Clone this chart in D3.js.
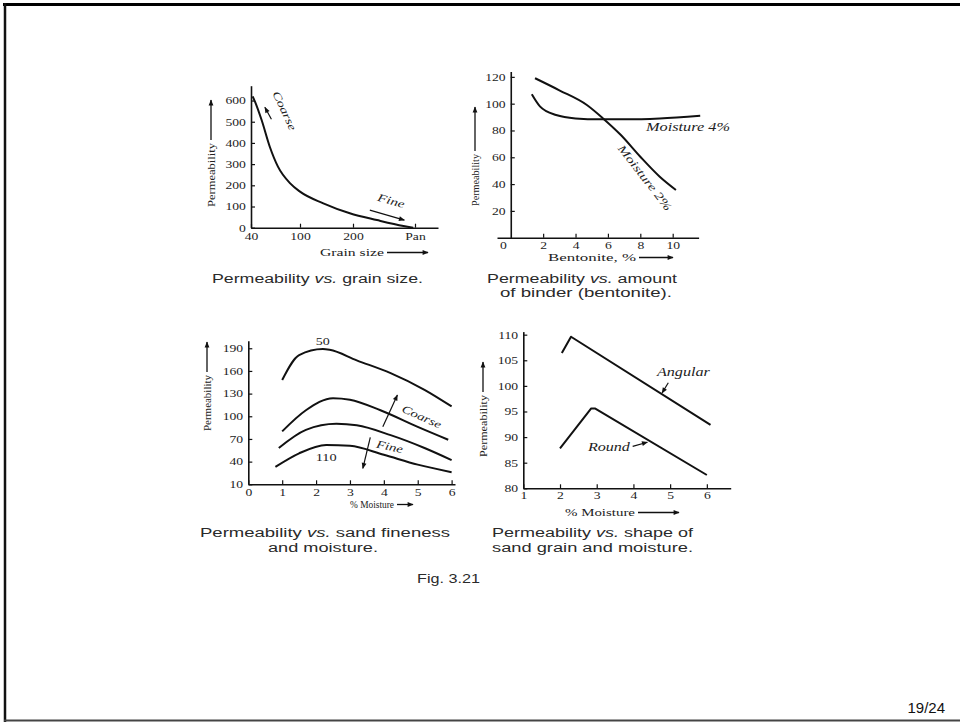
<!DOCTYPE html>
<html>
<head>
<meta charset="utf-8">
<script src="https://cdn.jsdelivr.net/npm/d3@7"></script>
<style>
  html, body { margin: 0; padding: 0; background: #fff; }
  svg { display: block; }
  .tick text { font-family: "Liberation Serif", "DejaVu Serif", serif; font-size: 10.5px; fill: #222; }
  .ser { font-family: "Liberation Serif", "DejaVu Serif", serif; fill: #222; }
  .cap { font-family: "Liberation Sans", Arial, sans-serif; font-size: 12px; fill: #2a2a2a; }
</style>
</head>
<body>
<script>
// ---------- DATA ----------
// Panel 1: permeability vs grain size
const grainTicks = [40, 100, 200, 270];
const grainTickLabels = ["40", "100", "200", "Pan"];
const grainSize = [42, 45, 53, 63, 73, 88, 100, 144, 194, 227, 257, 268];
const grainPerm = [620, 594, 508, 382, 288, 209, 170, 115, 68, 36, 8, 0];
const grainYTicks = [0, 100, 200, 300, 400, 500, 600];

// Panel 2: permeability vs bentonite
const bentTicks = [0, 2, 4, 6, 8, 10];
const bentYTicks = [20, 40, 60, 80, 100, 120];
const bent4X = [1.3, 1.8, 2.8, 4.0, 5.5, 7.2, 9.2, 11.7];
const bent4Y = [107, 98, 91.5, 89, 88.3, 88.3, 89, 91];
const bent2X = [1.5, 3.0, 4.7, 5.7, 6.8, 8.0, 9.2, 10.2];
const bent2Y = [119, 110, 99, 89, 76.6, 60.4, 45.5, 35.6];

// Panel 3: permeability vs sand fineness and moisture
const moistTicks3 = [0, 1, 2, 3, 4, 5, 6];
const permTicks3 = [10, 40, 70, 100, 130, 160, 190];
const fin50X = [1.0, 1.5, 2.2, 2.4, 3.2, 4.2, 5.2, 6.0];
const fin50Y = [148, 181, 189, 188, 174, 157, 135, 113];
const finBX = [1.0, 1.7, 2.5, 3.0, 3.9, 5.0, 5.9];
const finBY = [80, 108, 124, 122, 108, 86, 69];
const finCX = [0.9, 1.7, 2.6, 3.2, 4.2, 5.2, 6.0];
const finCY = [58, 82, 90, 88, 75, 58, 42];
const fin110X = [0.8, 1.5, 2.3, 3.0, 4.0, 5.0, 6.0];
const fin110Y = [33, 51, 62, 61, 49, 36, 26];

// Panel 4: permeability vs grain shape and moisture
const moistTicks4 = [1, 2, 3, 4, 5, 6];
const permTicks4 = [80, 85, 90, 95, 100, 105, 110];
const angX = [2.05, 2.3, 6.1];
const angY = [106.4, 109.6, 92.4];
const roundX = [2.0, 2.85, 2.95, 6.0];
const roundY = [87.8, 95.6, 95.6, 82.6];

// ---------- DRAW ----------
const svg = d3.select("body").append("svg").attr("width", 960).attr("height", 722);

// slide frame
svg.append("line").attr("x1", 3).attr("x2", 960).attr("y1", 4.5).attr("y2", 4.5).attr("stroke", "#000").attr("stroke-width", 3);
svg.append("line").attr("x1", 5).attr("x2", 5).attr("y1", 3).attr("y2", 722).attr("stroke", "#111").attr("stroke-width", 2.5);
svg.append("line").attr("x1", 4).attr("x2", 960).attr("y1", 720.5).attr("y2", 720.5).attr("stroke", "#444").attr("stroke-width", 2);

const defs = svg.append("defs");
defs.append("marker").attr("id", "ah").attr("viewBox", "0 0 10 10").attr("refX", 9).attr("refY", 5)
  .attr("markerWidth", 8).attr("markerHeight", 6).attr("markerUnits", "userSpaceOnUse").attr("orient", "auto")
  .append("path").attr("d", "M0,1 L10,5 L0,9 Z").attr("fill", "#111");

function zip(xs, ys) { return xs.map((x, i) => [x, ys[i]]); }

function drawAxes(g, x, y, xt, xl, yt, pad) {
  const ax = d3.axisBottom(x).tickValues(xt).tickSizeInner(-4).tickSizeOuter(0).tickPadding(pad.x)
    .tickFormat(xl ? ((d, i) => xl[i]) : d3.format("d"));
  const ay = d3.axisLeft(y).tickValues(yt).tickSizeInner(-4).tickSizeOuter(0).tickPadding(pad.y)
    .tickFormat(d3.format("d"));
  const gx = g.append("g").attr("transform", `translate(0,${y.range()[0]})`).call(ax);
  const gy = g.append("g").attr("transform", `translate(${x(x.domain()[0] < 0 ? 0 : x.domain()[0])},0)`).call(ay);
  [gx, gy].forEach(a => {
    a.select(".domain").attr("stroke", "#111").attr("stroke-width", 1.6);
    a.selectAll(".tick line").attr("stroke", "#111").attr("stroke-width", 1.2);
    a.selectAll(".tick text").attr("transform", "scale(1.3,1)");
  });
  return { gx, gy };
}

function line(g, x, y, pts, curve) {
  g.append("path").datum(pts).attr("fill", "none").attr("stroke", "#111").attr("stroke-width", 2)
    .attr("stroke-linejoin", "round")
    .attr("d", d3.line().x(d => x(d[0])).y(d => y(d[1])).curve(curve));
}

function arrow(g, x1, y1, x2, y2, w) {
  g.append("line").attr("x1", x1).attr("y1", y1).attr("x2", x2).attr("y2", y2)
    .attr("stroke", "#111").attr("stroke-width", w || 1.3).attr("marker-end", "url(#ah)");
}

function yLabel(g, cx, yBottom, len, arrowLen) {
  g.append("text").attr("class", "ser").attr("font-size", 11)
    .attr("textLength", len).attr("lengthAdjust", "spacingAndGlyphs")
    .attr("transform", `translate(${cx + 3.8},${yBottom}) rotate(-90)`).text("Permeability");
  arrow(g, cx, yBottom - len - 3, cx, yBottom - len - 3 - arrowLen);
}

function xLabel(g, txt, x0, yBase, len, arrowEnd) {
  g.append("text").attr("class", "ser").attr("font-size", 10.5).attr("x", x0).attr("y", yBase)
    .attr("textLength", len).attr("lengthAdjust", "spacingAndGlyphs").text(txt);
  arrow(g, x0 + len + 3, yBase - 3.5, arrowEnd, yBase - 3.5);
}

function ann(g, txt, px, py, rot, size, len, anchor) {
  return g.append("text").attr("class", "ser").attr("font-size", size).attr("font-style", "italic")
    .attr("text-anchor", anchor || "middle")
    .attr("textLength", len).attr("lengthAdjust", "spacingAndGlyphs")
    .attr("transform", `translate(${px},${py}) rotate(${rot})`).text(txt);
}

// ----- Panel 1 -----
{
  const g = svg.append("g");
  const x = d3.scaleLinear().domain([40, 100, 200, 270, 310]).range([251, 300, 353, 415, 438]);
  const y = d3.scaleLinear().domain([0, 670]).range([227.7, 85.7]);
  drawAxes(g, x, y, grainTicks, grainTickLabels, grainYTicks, { x: 5, y: 4 });
  line(g, x, y, zip(grainSize, grainPerm), d3.curveMonotoneX);
  ann(g, "Coarse", x(77), y(545), 65, 11, 42);
  arrow(g, x(65), y(512), x(57), y(568), 1.2);
  ann(g, "Fine", x(242), y(110), 16, 11, 28);
  arrow(g, x(219), y(83), x(258), y(36), 1.2);
  yLabel(g, 211, 207, 64, 40);
  xLabel(g, "Grain size", 320, 256, 64, 428);
}

// ----- Panel 2 -----
{
  const g = svg.append("g");
  const x = d3.scaleLinear().domain([-0.85, 11.6]).range([497, 698.6]);
  const y = d3.scaleLinear().domain([0, 124]).range([237.7, 71.5]);
  const { gx } = drawAxes(g, x, y, bentTicks, null, bentYTicks, { x: 4, y: 4 });
  gx.selectAll(".tick").filter(d => d === 0).select("text").attr("dx", -6);
  gx.selectAll(".tick").filter(d => d === 0).select("line").remove();
  line(g, x, y, zip(bent4X, bent4Y), d3.curveMonotoneX);
  line(g, x, y, zip(bent2X, bent2Y), d3.curveMonotoneX);
  ann(g, "Moisture 4%", x(8.35), y(79.5), 0, 11.5, 84, "start");
  ann(g, "Moisture 2%", x(8.1), y(43), 52, 11.5, 80);
  yLabel(g, 475, 206, 52, 44);
  xLabel(g, "Bentonite, %", 548, 261, 88, 673);
}

// ----- Panel 3 -----
{
  const g = svg.append("g");
  const x = d3.scaleLinear().domain([0, 6.1]).range([248.3, 455]);
  const y = d3.scaleLinear().domain([10, 200]).range([484.3, 340.7]);
  drawAxes(g, x, y, moistTicks3, null, permTicks3, { x: 4, y: 4 });
  [[fin50X, fin50Y], [finBX, finBY], [finCX, finCY], [fin110X, fin110Y]]
    .forEach(([xs, ys]) => line(g, x, y, zip(xs, ys), d3.curveMonotoneX));
  g.append("text").attr("class", "ser").attr("font-size", 10.5).attr("text-anchor", "middle")
    .attr("x", x(2.2)).attr("y", y(194)).attr("textLength", 14).attr("lengthAdjust", "spacingAndGlyphs").text("50");
  g.append("text").attr("class", "ser").attr("font-size", 10.5).attr("text-anchor", "middle")
    .attr("x", x(2.3)).attr("y", y(41)).attr("textLength", 21).attr("lengthAdjust", "spacingAndGlyphs").text("110");
  ann(g, "Coarse", x(5.07), y(95), 24, 11, 42);
  arrow(g, x(3.97), y(86), x(4.4), y(128), 1.2);
  ann(g, "Fine", x(4.15), y(55), 12, 11, 27);
  arrow(g, x(3.6), y(72), x(3.38), y(31), 1.2);
  yLabel(g, 207, 431, 56, 30);
  xLabel(g, "% Moisture", 350, 508, 44, 413);
}

// ----- Panel 4 -----
{
  const g = svg.append("g");
  const x = d3.scaleLinear().domain([1, 6.65]).range([523.3, 730.7]);
  const y = d3.scaleLinear().domain([80, 110.6]).range([488.3, 331.6]);
  drawAxes(g, x, y, moistTicks4, null, permTicks4, { x: 3, y: 4 });
  line(g, x, y, zip(angX, angY), d3.curveLinear);
  line(g, x, y, zip(roundX, roundY), d3.curveLinear);
  ann(g, "Angular", x(4.64), y(101.9), 0, 11.5, 53, "start");
  arrow(g, x(4.95), y(100.6), x(4.78), y(98.6), 1.2);
  ann(g, "Round", x(2.76), y(87.3), 0, 11.5, 42, "start");
  arrow(g, x(3.98), y(88.2), x(4.38), y(89.0), 1.2);
  yLabel(g, 483, 457, 62, 30);
  xLabel(g, "% Moisture", 565, 516, 70, 679);
}

// ----- Captions -----
function caption(cx, yb, len, parts) {
  const t = svg.append("text").attr("class", "cap").attr("x", cx).attr("y", yb).attr("text-anchor", "middle")
    .attr("textLength", len).attr("lengthAdjust", "spacingAndGlyphs");
  parts.forEach(p => { const s = t.append("tspan").text(p[0]); if (p[1]) s.attr("font-style", "italic"); });
}
caption(317.5, 283, 211, [["Permeability "], ["vs.", true], [" grain size."]]);
caption(582, 283, 190, [["Permeability "], ["vs.", true], [" amount"]]);
caption(586, 297, 172, [["of binder (bentonite)."]]);
caption(325, 537, 250, [["Permeability "], ["vs.", true], [" sand fineness"]]);
caption(323, 552, 110, [["and moisture."]]);
caption(592.5, 537, 201, [["Permeability "], ["vs.", true], [" shape of"]]);
caption(592.5, 552, 201, [["sand grain and moisture."]]);
caption(448.5, 583, 63, [["Fig. 3.21"]]);

svg.append("text").attr("x", 945).attr("y", 713).attr("text-anchor", "end")
  .attr("font-family", "'Liberation Sans Narrow', 'Liberation Sans', Arial, sans-serif")
  .attr("font-size", 15).attr("fill", "#111").text("19/24");
</script>
</body>
</html>
